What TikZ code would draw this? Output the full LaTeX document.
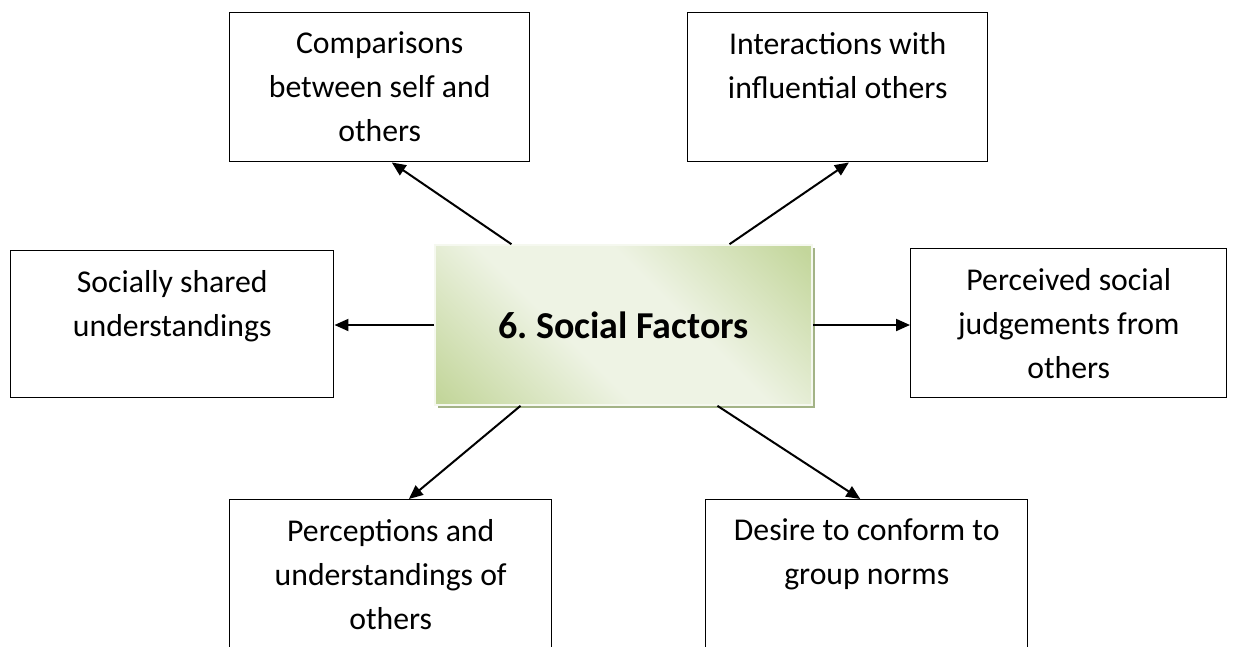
\documentclass[tikz,border=0pt]{standalone}
\usepackage{fontspec}
\setmainfont{Carlito}
\usetikzlibrary{arrows.meta,calc,shadows}
\definecolor{hubdark}{HTML}{C3D69B}
\definecolor{hublight}{HTML}{EEF3E4}
\definecolor{hubshadow}{HTML}{A3B386}
\pgfdeclareverticalshading{hubshade}{100bp}{color(0bp)=(hubdark); color(16bp)=(hubdark);
  color(41bp)=(hublight); color(59bp)=(hublight); color(84bp)=(hubdark); color(100bp)=(hubdark)}
% text of an outer box: width, height, lines
\newcommand{\boxtext}[3]{\parbox[t][#2][t]{#1}{\centering\vspace*{14.5pt}\fontsize{23.8}{33}\selectfont #3}}

\begin{document}
\begin{tikzpicture}[x=0.75pt,y=-0.75pt,
  factor/.style={draw,line width=1.1pt,inner sep=0pt,anchor=north west},
  hub/.style={draw=hublight!60!white,line width=1.2pt,
    shading=hubshade,shading angle=-45,
    drop shadow={shadow xshift=2.5pt,shadow yshift=-2.5pt,fill=hubshadow,opacity=1},
    minimum width=282.75pt,minimum height=120pt,
    font=\bfseries\fontsize{28.5}{32}\selectfont},
  link/.style={-{Triangle[length=10.5pt,width=9pt]},line width=1.5pt}]
\useasboundingbox (0,0) rectangle (1234,646);

% centre
\node[hub] (hub) at (623.5,325) {6.\ Social Factors};

% outer boxes
\node[factor] (compare) at (229,12) {\boxtext{225pt}{111.75pt}{Comparisons\\between self and\\others}};
\node[factor] (interact) at (687,12) {\boxtext{225pt}{111.75pt}{Interactions with\\influential others}};
\node[factor] (shared) at (10,250) {\boxtext{242.25pt}{110.25pt}{Socially shared\\understandings}};
\node[factor] (judge) at (910,248) {\boxtext{237pt}{111.75pt}{Perceived social\\judgements from\\others}};
\node[factor] (percept) at (229,499) {\boxtext{241.5pt}{112.5pt}{Perceptions and\\understandings of\\others}};
\node[factor] (conform) at (705,499) {\boxtext{241.5pt}{112.5pt}{Desire to conform to\\group norms}};

% arrows
\draw[link] ($(hub.north west)!0.204!(hub.north east)$) -- ($(compare.south west)!0.54!(compare.south east)$);
\draw[link] ($(hub.north west)!0.78!(hub.north east)$) -- ($(interact.south west)!0.537!(interact.south east)$);
\draw[link] (hub.west) -- (hub.west -| shared.east);
\draw[link] (hub.east) -- (hub.east -| judge.west);
\draw[link] ($(hub.south west)!0.228!(hub.south east)$) -- ($(percept.north west)!0.556!(percept.north east)$);
\draw[link] ($(hub.south west)!0.748!(hub.south east)$) -- ($(conform.north west)!0.48!(conform.north east)$);
\end{tikzpicture}
\end{document}
